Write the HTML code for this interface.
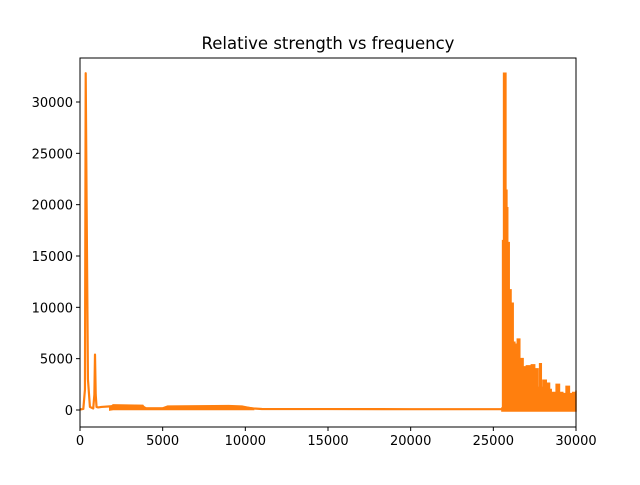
<!DOCTYPE html>
<html><head><meta charset="utf-8"><style>
body{margin:0;background:#fff}
svg text{font-family:"DejaVu Sans","Liberation Sans",sans-serif;fill:#000}
</style></head><body>
<svg id="chart" width="640" height="480" xmlns="http://www.w3.org/2000/svg">
<rect width="640" height="480" fill="#fff"/>
<text x="328" y="49" text-anchor="middle" font-size="16.5">Relative strength vs frequency</text>
<g id="plot"></g>
<g id="axes"></g>
</svg>
<script>
const xTicks=[0,5000,10000,15000,20000,25000,30000];
const yTicks=[0,5000,10000,15000,20000,25000,30000];
const lineFreq=[0,200,300,345,400,480,600,800,870,907,950,1000,1100,1300,1800,2500,3800,4000,5000,5500,8000,9500,10000,10500,11000,15000,20000,25000,25500];
const lineVal=[50,100,2000,32800,20000,3000,300,150,1500,5400,1500,300,250,300,350,400,350,150,150,300,330,330,250,150,100,90,80,80,80];
const bandFreq=[1800,2000,3800,3900,5000,5300,9000,9800,10500];
const bandHigh=[250,500,450,200,200,380,420,380,150];
const bandLow=[0,50,50,50,50,50,50,50,50];
const envFreq=[25520,25560,25620,25700,25760,25820,25870,25960,26070,26200,26300,26450,26600,26800,27000,27300,27500,27700,27800,27900,28000,28200,28400,28500,28800,29000,29200,29400,29600,29800,30000];
const envVal=[200,16500,32800,32800,21400,19700,16300,11700,10400,6600,6400,6900,5000,4200,4300,4400,4000,2200,4500,2200,2900,2600,2000,1700,2500,1700,1600,2300,1600,1700,1900];
const X0=80,X1=576,Y0=58,Y1=427;
const xmin=0,xmax=30000,ymin=-1656,ymax=34285;
const sx=v=>X0+(v-xmin)/(xmax-xmin)*(X1-X0);
const sy=v=>Y1-(v-ymin)/(ymax-ymin)*(Y1-Y0);
const NS='http://www.w3.org/2000/svg';
const plot=document.getElementById('plot'),axes=document.getElementById('axes');
function mk(t,a,p){const e=document.createElementNS(NS,t);for(const k in a)e.setAttribute(k,a[k]);p.appendChild(e);return e;}
const C='#ff7f0e';
let pts=lineFreq.map((f,i)=>sx(f)+','+sy(lineVal[i])).join(' ');
const ln=mk('polyline',{points:pts,fill:'none',stroke:C,'stroke-width':2.2,'stroke-linejoin':'round'},plot);


let bp=bandFreq.map((f,i)=>sx(f)+','+sy(bandHigh[i])).concat(bandFreq.slice().reverse().map((f,i)=>sx(f)+','+sy(bandLow[bandLow.length-1-i]))).join(' ');
const bd=mk('polygon',{points:bp,fill:C,stroke:C,'stroke-width':1.5},plot);


let ep=[sx(envFreq[0])+','+sy(-100)];
envFreq.forEach((f,i)=>{ep.push(sx(f)+','+sy(envVal[i]));if(i<envFreq.length-1)ep.push(sx(envFreq[i+1])+','+sy(envVal[i]));});
ep.push(sx(envFreq[envFreq.length-1])+','+sy(-100));
const en=mk('polygon',{points:ep.join(' '),fill:C,stroke:C,'stroke-width':1.5},plot);


const fr=mk('rect',{x:X0,y:Y0,width:X1-X0,height:Y1-Y0,fill:'none',stroke:'#000','stroke-width':1},axes);


xTicks.forEach(t=>{const x=sx(t);
const tk=mk('line',{x1:x,x2:x,y1:Y1,y2:Y1+4,stroke:'#000'},axes);


const tx=mk('text',{x:x,y:Y1+18,'text-anchor':'middle','font-size':13},axes);tx.textContent=t;

});
yTicks.forEach(t=>{const y=sy(t);
const tk=mk('line',{x1:X0-4,x2:X0,y1:y,y2:y,stroke:'#000'},axes);


const tx=mk('text',{x:X0-7,y:y+5,'text-anchor':'end','font-size':13},axes);tx.textContent=t;

});
</script>
</body></html>
